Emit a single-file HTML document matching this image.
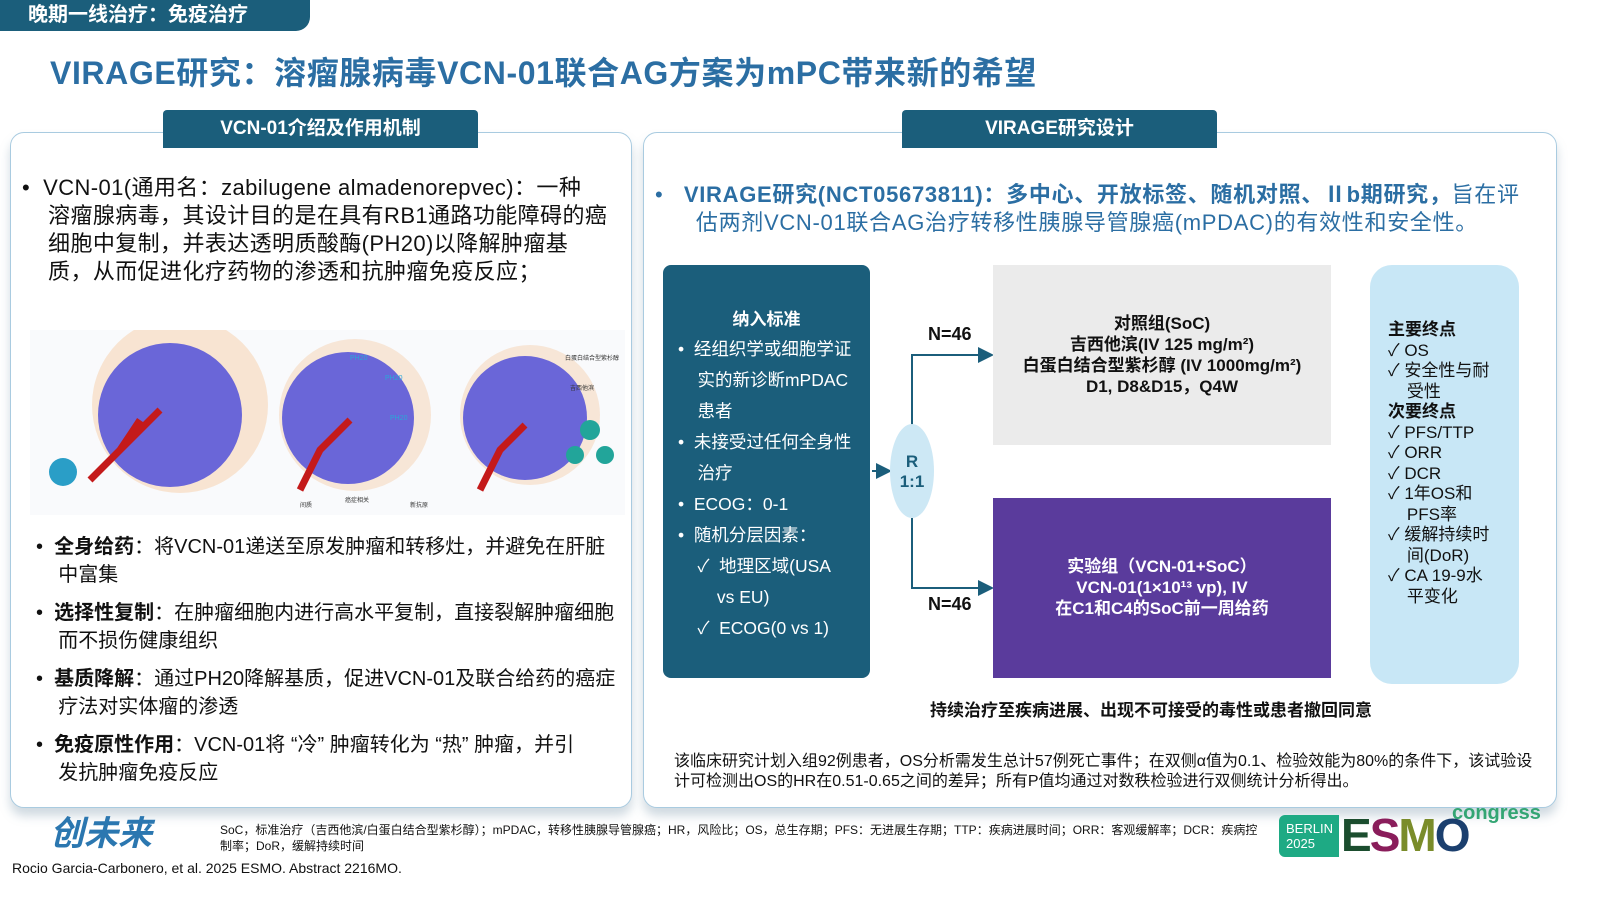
<!DOCTYPE html>
<html><head><meta charset="utf-8"><style>
*{margin:0;padding:0;box-sizing:border-box}
body{width:1600px;height:900px;background:#fff;position:relative;overflow:hidden;font-family:"Liberation Sans","Noto Sans CJK SC",sans-serif;color:#111}
.a{position:absolute}
.tab{background:#1b5e7b;color:#fff;font-weight:bold;font-size:19px;text-align:center;border-radius:4px 4px 0 0}
.panel{border:1.5px solid #a9cbe0;border-radius:14px;background:#fff;box-shadow:0 8px 10px rgba(120,150,170,.35)}
</style></head><body>
<div class="a" style="left:0;top:0;width:310px;height:31px;background:#1b5e7b;border-radius:0 0 14px 0;color:#fff;font-weight:bold;font-size:20px;line-height:31px;padding-left:28px">晚期一线治疗：免疫治疗</div>
<div class="a" style="left:50px;top:48px;font-size:32px;font-weight:bold;color:#2b6ea3;letter-spacing:0.6px">VIRAGE研究：溶瘤腺病毒VCN-01联合AG方案为mPC带来新的希望</div>

<div class="a panel" style="left:10px;top:132px;width:622px;height:676px"></div>
<div class="a tab" style="left:163px;top:110px;width:315px;height:38px;line-height:38px">VCN-01介绍及作用机制</div>
<div class="a" style="left:22px;top:174px;width:610px;font-size:22px;line-height:28px;letter-spacing:0.4px;white-space:nowrap">•&nbsp;&nbsp;VCN-01(通用名：zabilugene almadenorepvec)：一种<br>&nbsp;&nbsp;&nbsp;&nbsp;溶瘤腺病毒，其设计目的是在具有RB1通路功能障碍的癌<br>&nbsp;&nbsp;&nbsp;&nbsp;细胞中复制，并表达透明质酸酶(PH20)以降解肿瘤基<br>&nbsp;&nbsp;&nbsp;&nbsp;质，从而促进化疗药物的渗透和抗肿瘤免疫反应；</div>
<svg class="a" style="left:30px;top:330px" width="595" height="185">
<rect width="595" height="185" fill="#f9fafc"/>
<g>
<circle cx="150" cy="75" r="88" fill="#f6c9a0" opacity=".45"/><circle cx="140" cy="85" r="72" fill="#6a66d8"/>
<circle cx="325" cy="85" r="76" fill="#f6c9a0" opacity=".4"/><circle cx="318" cy="88" r="66" fill="#6a66d8"/>
<circle cx="500" cy="85" r="70" fill="#f6c9a0" opacity=".4"/><circle cx="495" cy="88" r="62" fill="#6a66d8"/>
<path d="M60 150 L90 120 L110 90 M90 120 L130 80 M270 160 L290 120 L320 90 M450 160 L470 120 L495 95" stroke="#c41a1a" stroke-width="7" fill="none"/>
<circle cx="33" cy="142" r="14" fill="#2a9ec7"/><circle cx="560" cy="100" r="10" fill="#22a59a"/><circle cx="545" cy="125" r="9" fill="#22a59a"/><circle cx="575" cy="125" r="9" fill="#22a59a"/>
</g>
<text x="320" y="30" font-size="7" fill="#2aa8d8">PH20</text><text x="355" y="50" font-size="7" fill="#2aa8d8">PH20</text><text x="360" y="90" font-size="7" fill="#2aa8d8">PH20</text>
<text x="535" y="30" font-size="6" fill="#333">白蛋白结合型紫杉醇</text><text x="540" y="60" font-size="6" fill="#333">吉西他滨</text>
<text x="270" y="177" font-size="6" fill="#333">间质</text><text x="315" y="172" font-size="6" fill="#333">癌症相关</text><text x="380" y="177" font-size="6" fill="#333">新抗原</text>
</svg>
<div class="a" style="left:36px;top:533px;width:600px;font-size:20px;line-height:28px;white-space:nowrap">
<p style="margin-bottom:10px">•&nbsp;&nbsp;<b>全身给药</b>：将VCN-01递送至原发肿瘤和转移灶，并避免在肝脏<br>&nbsp;&nbsp;&nbsp;&nbsp;中富集</p>
<p style="margin-bottom:10px">•&nbsp;&nbsp;<b>选择性复制</b>：在肿瘤细胞内进行高水平复制，直接裂解肿瘤细胞<br>&nbsp;&nbsp;&nbsp;&nbsp;而不损伤健康组织</p>
<p style="margin-bottom:10px">•&nbsp;&nbsp;<b>基质降解</b>：通过PH20降解基质，促进VCN-01及联合给药的癌症<br>&nbsp;&nbsp;&nbsp;&nbsp;疗法对实体瘤的渗透</p>
<p>•&nbsp;&nbsp;<b>免疫原性作用</b>：VCN-01将 “冷” 肿瘤转化为 “热” 肿瘤，并引<br>&nbsp;&nbsp;&nbsp;&nbsp;发抗肿瘤免疫反应</p></div>

<div class="a panel" style="left:643px;top:132px;width:914px;height:676px"></div>
<div class="a tab" style="left:902px;top:110px;width:315px;height:38px;line-height:38px">VIRAGE研究设计</div>
<div class="a" style="left:655px;top:181px;width:900px;font-size:22px;line-height:28px;color:#2b6ea3;letter-spacing:0.7px;white-space:nowrap">•&nbsp;&nbsp;&nbsp;<b>VIRAGE研究(NCT05673811)：多中心、开放标签、随机对照、Ⅱb期研究，</b>旨在评<br>&nbsp;&nbsp;&nbsp;&nbsp;&nbsp;&nbsp;估两剂VCN-01联合AG治疗转移性胰腺导管腺癌(mPDAC)的有效性和安全性。</div>

<div class="a" style="left:663px;top:265px;width:207px;height:413px;background:#1b5e7b;border-radius:8px;color:#fff;padding:40px 0 0 15px">
<div style="font-weight:bold;font-size:17px;text-align:center;margin-bottom:4px;padding-right:15px">纳入标准</div>
<div style="font-size:17.5px;line-height:31px;white-space:nowrap">
<div>•&nbsp;&nbsp;经组织学或细胞学证<br>&nbsp;&nbsp;&nbsp;&nbsp;实的新诊断mPDAC<br>&nbsp;&nbsp;&nbsp;&nbsp;患者</div>
<div>•&nbsp;&nbsp;未接受过任何全身性<br>&nbsp;&nbsp;&nbsp;&nbsp;治疗</div>
<div>•&nbsp;&nbsp;ECOG：0-1</div>
<div>•&nbsp;&nbsp;随机分层因素：</div>
<div>&nbsp;&nbsp;&nbsp;&nbsp;✓&nbsp;&nbsp;地理区域(USA<br>&nbsp;&nbsp;&nbsp;&nbsp;&nbsp;&nbsp;&nbsp;&nbsp;vs EU)</div>
<div>&nbsp;&nbsp;&nbsp;&nbsp;✓&nbsp;&nbsp;ECOG(0 vs 1)</div></div></div>

<svg class="a" style="left:868px;top:340px" width="130" height="260">
<defs><marker id="m" markerWidth="8" markerHeight="8" refX="6" refY="4" orient="auto"><path d="M0 0L8 4L0 8z" fill="#1b5e7b"/></marker></defs>
<line x1="4" y1="131" x2="20" y2="131" stroke="#1b5e7b" stroke-width="2" marker-end="url(#m)"/>
<polyline points="44,85 44,15 122,15" fill="none" stroke="#1b5e7b" stroke-width="2" marker-end="url(#m)"/>
<polyline points="44,178 44,248 122,248" fill="none" stroke="#1b5e7b" stroke-width="2" marker-end="url(#m)"/>
<ellipse cx="44" cy="131" rx="22" ry="47" fill="#cde8f5"/>
<text x="44" y="127" font-size="17" font-weight="bold" text-anchor="middle" fill="#1b5e7b">R</text>
<text x="44" y="147" font-size="17" font-weight="bold" text-anchor="middle" fill="#1b5e7b">1:1</text>
</svg>
<div class="a" style="left:928px;top:324px;font-weight:bold;font-size:18px">N=46</div>
<div class="a" style="left:928px;top:594px;font-weight:bold;font-size:18px">N=46</div>

<div class="a" style="left:993px;top:265px;width:338px;height:180px;background:#ebebeb;text-align:center;font-weight:bold;font-size:17px;line-height:21px;padding-top:48px">对照组(SoC)<br>吉西他滨(IV 125 mg/m²)<br>白蛋白结合型紫杉醇 (IV 1000mg/m²)<br>D1, D8&amp;D15，Q4W</div>
<div class="a" style="left:993px;top:498px;width:338px;height:180px;background:#5a3b9c;color:#fff;text-align:center;font-weight:bold;font-size:17px;line-height:21px;padding-top:58px">实验组（VCN-01+SoC）<br>VCN-01(1×10¹³ vp), IV<br>在C1和C4的SoC前一周给药</div>

<div class="a" style="left:1370px;top:265px;width:149px;height:419px;background:#c8e7f6;border-radius:22px;font-size:17px;line-height:20.5px;padding:55px 0 0 18px;white-space:nowrap">
<b>主要终点</b><br>✓&nbsp;OS<br>✓&nbsp;安全性与耐<br>&nbsp;&nbsp;&nbsp;&nbsp;受性<br><b>次要终点</b><br>✓&nbsp;PFS/TTP<br>✓&nbsp;ORR<br>✓&nbsp;DCR<br>✓&nbsp;1年OS和<br>&nbsp;&nbsp;&nbsp;&nbsp;PFS率<br>✓&nbsp;缓解持续时<br>&nbsp;&nbsp;&nbsp;&nbsp;间(DoR)<br>✓&nbsp;CA 19-9水<br>&nbsp;&nbsp;&nbsp;&nbsp;平变化</div>

<div class="a" style="left:930px;top:696px;font-weight:bold;font-size:17px">持续治疗至疾病进展、出现不可接受的毒性或患者撤回同意</div>
<div class="a" style="left:674px;top:752px;width:860px;font-size:16px;line-height:20px">该临床研究计划入组92例患者，OS分析需发生总计57例死亡事件；在双侧α值为0.1、检验效能为80%的条件下，该试验设计可检测出OS的HR在0.51-0.65之间的差异；所有P值均通过对数秩检验进行双侧统计分析得出。</div>

<div class="a" style="left:50px;top:806px;font-size:34px;font-weight:bold;font-style:italic;color:#2b77b0">创未来</div>
<div class="a" style="left:220px;top:822px;width:1040px;font-size:12px;line-height:16px">SoC，标准治疗（吉西他滨/白蛋白结合型紫杉醇）；mPDAC，转移性胰腺导管腺癌；HR，风险比；OS，总生存期；PFS：无进展生存期；TTP：疾病进展时间；ORR：客观缓解率；DCR：疾病控制率；DoR，缓解持续时间</div>
<div class="a" style="left:12px;top:860px;font-size:14px">Rocio Garcia-Carbonero, et al. 2025 ESMO. Abstract 2216MO.</div>
<div class="a" style="left:1279px;top:815px;width:60px;height:42px;background:#1eaa84;border-radius:6px 0 0 6px;color:#fff;font-size:13px;line-height:15px;padding:6px 0 0 7px">BERLIN<br>2025</div>
<div class="a" style="left:1341px;top:812px;font-size:46px;font-weight:bold;color:#1b4d2e;line-height:46px;letter-spacing:-2px">E<span style="color:#8a1d5b">S</span><span style="color:#7a8c2a">M</span><span style="color:#1b3f6e">O</span></div>
<div class="a" style="left:1452px;top:802px;font-size:20px;font-weight:bold;color:#33a573">congress</div>
</body></html>
